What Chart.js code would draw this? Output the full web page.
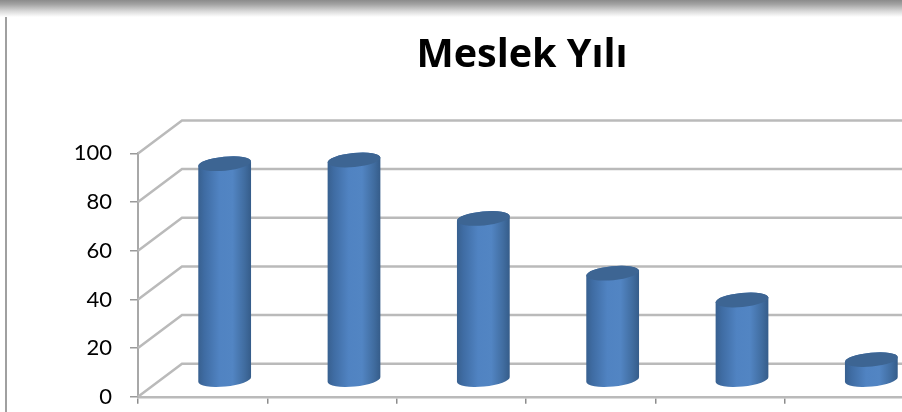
<!DOCTYPE html>
<html><head><meta charset="utf-8">
<script src="https://cdn.jsdelivr.net/npm/chart.js@4"></script>
<style>
html,body{margin:0;padding:0;width:902px;height:412px;overflow:hidden;background:#fff}
#wrap{position:relative;width:902px;height:412px;overflow:hidden}
canvas{position:absolute;left:0;top:0;filter:blur(.6px)}
#top{position:absolute;left:0;top:0;width:902px;height:17px;background:linear-gradient(#8b8b8b,#a2a2a2 25%,#d8d8d8 65%,#fff)}
#left{position:absolute;left:5px;top:0;width:2px;height:412px;background:#a0a0a0}
</style></head>
<body><div id="wrap"><div id="left"></div><canvas id="c" width="1044" height="428"></canvas><div id="top"></div></div>
<script>
const categories = ['1','2','3','4','5','6'];
const meslekYili = [89, 90.5, 66.5, 44, 33, 8.5];
const yTicks = [0,20,40,60,80,100];
const titleText = 'Meslek Yılı';

const DEPTH_X = 44, DEPTH_Y = 33;
const wall = {
  id:'wall',
  beforeDatasetsDraw(chart){
    const {ctx, scales:{y}, chartArea:a} = chart;
    ctx.save();
    ctx.strokeStyle='#bababa'; ctx.lineWidth=2.5;
    yTicks.forEach(t=>{
      const p=y.getPixelForValue(t);
      ctx.beginPath();
      ctx.moveTo(a.left,p);
      ctx.lineTo(a.left+DEPTH_X,p-DEPTH_Y);
      ctx.lineTo(a.right,p-DEPTH_Y);
      ctx.stroke();
    });
    ctx.restore();
  }
};
const cylinders = {
  id:'cylinders',
  beforeDatasetDraw(chart,args){
    const {ctx} = chart;
    const rot=-5.5*Math.PI/180, ry=7;
    ctx.save();
    ctx.translate(DEPTH_X/2,-DEPTH_Y/2);
    args.meta.data.forEach(b=>{
      const {x,y,base,width}=b.getProps(['x','y','base','width'],true);
      const rx=width/2;
      const g=ctx.createLinearGradient(x-rx,0,x+rx,0);
      g.addColorStop(0,'#38608f');
      g.addColorStop(.12,'#3f6ca3');
      g.addColorStop(.4,'#5083c2');
      g.addColorStop(.65,'#5285c3');
      g.addColorStop(.88,'#406c9f');
      g.addColorStop(1,'#355c89');
      ctx.fillStyle=g;
      ctx.beginPath();
      ctx.ellipse(x,y,rx,ry,rot,Math.PI,2*Math.PI);
      ctx.ellipse(x,base,rx,ry,rot,0,Math.PI);
      ctx.closePath();
      ctx.fill();
      ctx.fillStyle='#3d6593';
      ctx.beginPath();
      ctx.ellipse(x,y,rx,ry,rot,0,2*Math.PI);
      ctx.fill();
    });
    ctx.restore();
    return false;
  }
};

new Chart(document.getElementById('c'),{
  type:'bar',
  data:{labels:categories,datasets:[{label:titleText,data:meslekYili,backgroundColor:'#4f81bd',barThickness:53}]},
  plugins:[wall,cylinders],
  options:{
    responsive:false,animation:false,
    plugins:{
      legend:{display:false},tooltip:{enabled:false},
      title:{display:true,text:titleText,color:'#000',
        font:{family:'Open Sans',size:39.5,weight:'bold',lineHeight:1.2},
        padding:{top:32,bottom:74}}
    },
    scales:{
      x:{
        ticks:{display:false},
        grid:{display:true,drawOnChartArea:false,drawTicks:true,tickLength:7,color:'#8c8c8c',lineWidth:1.5},
        border:{display:true,color:'#bababa',width:2.5}
      },
      y:{
        min:0,max:100,
        afterBuildTicks(s){s.ticks=yTicks.map(v=>({value:v}));},
        afterFit(s){s.width=138;},
        ticks:{color:'#000',font:{family:'Lato',size:22},padding:18},
        grid:{display:true,drawOnChartArea:false,drawTicks:true,tickLength:8,color:'#9a9a9a',lineWidth:1.5},
        border:{display:true,color:'#a8a8a8',width:2}
      },
      spacer:{
        position:'right',type:'linear',
        afterFit(s){s.width=130;},
        ticks:{display:false},grid:{display:false},border:{display:false}
      }
    }
  }
});
</script></body></html>
